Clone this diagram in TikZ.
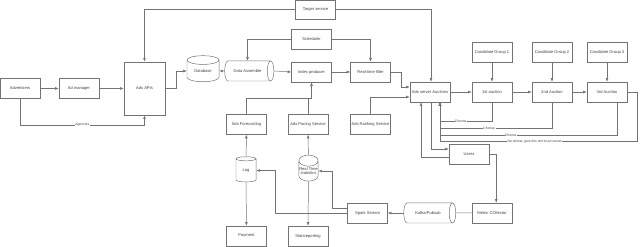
\documentclass[tikz,border=0pt]{standalone}
\usepackage{fontspec}
\setmainfont{Liberation Sans}
\usetikzlibrary{positioning,arrows.meta,calc,shapes.geometric}
\definecolor{adline}{gray}{0.45}
\definecolor{adtext}{gray}{0.25}

\begin{document}
\begin{tikzpicture}[x=0.025cm,y=-0.025cm,
    font=\fontsize{2.9}{3.4}\selectfont,text=adtext,
    box/.style={draw=adline,line width=.35pt,minimum width=1cm,
      minimum height=.5cm,inner sep=0pt,align=center},
    vcyl/.style={draw=adline,line width=.35pt,shape=cylinder,
      shape border rotate=90,aspect=.6,inner sep=0pt,align=center},
    hcyl/.style={draw=adline,line width=.35pt,shape=cylinder,
      aspect=2.2,inner sep=0pt,align=center},
    arr/.style={draw=adline,line width=.35pt,-{Latex[length=.9mm,width=.7mm]}},
    ln/.style={draw=adline,line width=.35pt},
    lbl/.style={font=\fontsize{2.4}{2.8}\selectfont,fill=white,inner sep=.3pt}]
  \path[use as bounding box] (0,0) rectangle (640,247);
  % front side
  \node[box] (adv) at (20,88.5) {Advertisers};
  \node[box] (admgr) at (79,88.5) {Ad manager};
  \node[box,minimum width=1.03cm,minimum height=1.33cm] (apis) at (144.5,88.5) {Ads APIs};
  \node[vcyl,aspect=.5,minimum width=.8cm,minimum height=.65cm] (db) at (203,71) {Database};
  \node[box,minimum height=.47cm] (tgt) at (315.5,9.5) {Target service};
  \node[box] (sched) at (311.5,39) {Scheduler};
  \node[hcyl,minimum height=1.23cm,minimum width=.5cm] (dasm) at (247.5,71) {Data Assemble};
  \node[box] (idx) at (311.5,72) {Index producer};
  \node[box] (rtf) at (370.5,72) {Real-time filter};
  \node[box] (ads) at (430,92) {Ads server Auctions};
  % auctions
  \node[box] (cg1) at (492,52) {Candidate Group 1};
  \node[box] (cg2) at (552,52) {Candidate Group 2};
  \node[box] (cg3) at (607,52) {Candidate Group 3};
  \node[box] (a1) at (492,92) {1st auction};
  \node[box] (a2) at (552,92) {2nd Auction};
  \node[box] (a3) at (607,92) {3rd Auction};
  % services and logs
  \node[box] (rank) at (370.5,124.5) {Ads Ranking Service};
  \node[box] (fcst) at (246.5,124.5) {Ads Forecasting};
  \node[box] (pace) at (308,124.5) {Ads Pacing Service};
  \node[vcyl,minimum width=.5cm,minimum height=.63cm] (log) at (246,170.5) {Log};
  \node[vcyl,minimum width=.48cm,minimum height=.65cm] (rts) at (308.5,171) {Real Time\\statistics};
  \node[box] (pay) at (246.5,236) {Payment};
  \node[box] (stat) at (308,236) {Statsreporting};
  \node[box] (spark) at (367.5,213) {Spark Stream};
  \node[hcyl,minimum height=1.3cm,minimum width=.5cm] (kafka) at (428,213) {Kafka/Pubsub};
  \node[box] (users) at (469,154) {Users};
  \node[box] (metric) at (492,213) {Metric COllector};
  \coordinate (agy) at (0,125);
  \coordinate (ret) at ($(ads.south)+(10,0)$);

  \draw[arr] (adv) -- (admgr);
  \draw[arr] (admgr) -- (apis);
  \draw[arr] (adv.south) -- (adv.south |- agy) -| (apis.south)
    node[lbl,pos=.25] {Agencies};
  \draw[arr] (apis.east) -- ++(11,0) |- (db.west);
  \draw[arr] (db.east) -- (dasm.west);
  \draw[arr] (dasm.east) -- (idx.west);
  \draw[arr] (idx) -- (rtf);
  \draw[arr] (sched.west) -| (dasm.north);
  \draw[arr] (sched.east) -| (rtf.north);
  \draw[arr] (tgt.west) -| (apis.north);
  \draw[arr] (tgt.east) -| ($(ads.north)+(1,0)$);
  \draw[arr] (rtf.east) -- ++(10,0) |- ($(ads.west)+(0,-5)$);
  \draw[arr] (rank.north) |- ($(ads.west)+(0,5)$);
  \draw[arr] (fcst.north) |- ($(idx.south)+(0,16)$) -- (idx.south);
  \draw[ln] (pace.north) |- ($(idx.south)+(0,16)$);
  \draw[arr] (ads) -- (a1);
  \draw[arr] (a1) -- (a2);
  \draw[arr] (a2) -- (a3);
  \draw[arr] (cg1) -- (a1);
  \draw[arr] (cg2) -- (a2);
  \draw[arr] (cg3) -- (a3);
  \draw[arr] (a1.south) |- ($(ret)+(0,19)$) node[lbl,pos=.8] {Choose} -- (ret);
  \draw[arr] (a2.south) |- ($(ret)+(0,26)$) node[lbl,pos=.78] {Choose} -- (ret);
  \draw[arr] ($(a3.south)+(10,0)$) |- ($(ret)+(0,33)$) node[lbl,pos=.8] {Choose} -- (ret);
  \draw[arr] (a3.east) -- ++(10,0) |- ($(ret)+(0,39)$)
    node[lbl,pos=.76] {No winner, give this slot to ad server} -- (ret);
  \draw[arr] ($(ads.south)+(1,0)$) |- ($(users.west)+(0,-5)$);
  \draw[arr] ($(users.west)+(0,3)$) -| ($(ads.south)+(-9,0)$);
  \draw[arr] (users.east) -- ++(7,0) coordinate (u1) -- (u1 |- metric.north);
  \draw[ln] (metric.west) -- (kafka.east);
  \draw[arr] (kafka.west) -- (spark.east);
  \draw[arr] (spark.west) -- ++(-72,0) |- (log.east);
  \draw[arr] ($(spark.west)+(0,-5)$) -- ++(-15,0) |- (rts.east);
  \draw[arr] (log) -- (fcst);
  \draw[arr] (log) -- (pay);
  \draw[arr] (rts) -- (pace);
  \draw[arr] (rts) -- (stat);
\end{tikzpicture}
\end{document}
